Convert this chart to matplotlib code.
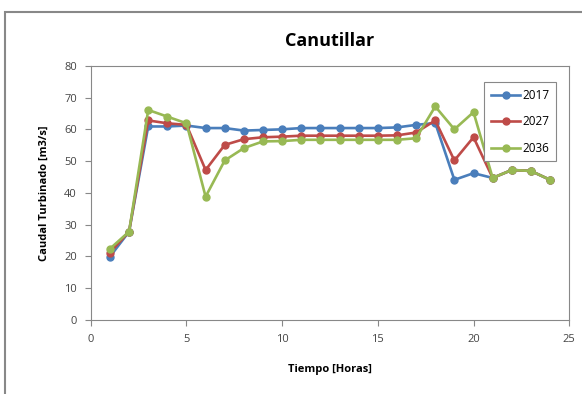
import matplotlib
matplotlib.use("Agg")
import matplotlib.pyplot as plt
from matplotlib.patches import Rectangle

horas = list(range(1, 25))
q2017 = [19.9, 27.8, 60.9, 60.9, 61.2, 60.4, 60.4, 59.6, 59.8, 60.0, 60.4, 60.4,
         60.4, 60.4, 60.4, 60.6, 61.4, 62.0, 44.1, 46.2, 44.7, 47.2, 46.9, 44.1]
q2027 = [21.2, 27.8, 62.8, 61.9, 61.4, 47.2, 55.1, 56.9, 57.5, 57.7, 58.0, 58.0,
         58.0, 58.0, 58.0, 58.1, 59.0, 62.8, 50.2, 57.5, 44.7, 47.2, 46.9, 44.1]
q2036 = [22.4, 27.8, 66.1, 64.0, 61.9, 38.8, 50.2, 54.1, 56.2, 56.3, 56.7, 56.7,
         56.7, 56.7, 56.7, 56.7, 57.2, 67.2, 60.0, 65.4, 44.7, 47.2, 46.9, 44.1]
series = [("2017", q2017, "#4A7EBB"), ("2027", q2027, "#BE4B48"), ("2036", q2036, "#98B954")]

plt.rcParams['font.family'] = ['Open Sans', 'DejaVu Sans']

fig = plt.figure(figsize=(5.82, 3.94), dpi=100)
ax = fig.add_axes([0.156, 0.188, 0.822, 0.645])

for name, vals, col in series:
    ax.plot(horas, vals, color=col, lw=1.9, marker='o', ms=5, label=name)

ax.set_xlim(0, 25)
ax.set_ylim(0, 80)
ax.set_xticks(range(0, 26, 5))
ax.set_yticks(range(0, 81, 10))
ax.tick_params(direction='out', length=4, width=0.8, color='#888888',
               labelsize=8, labelcolor='#444444', pad=6)
for s in ax.spines.values():
    s.set_color('#888888')
    s.set_linewidth(0.8)

ax.set_title('Canutillar', fontsize=13, fontweight='bold', pad=14)
ax.set_xlabel('Tiempo [Horas]', fontsize=8, fontweight='bold', labelpad=14)
ax.set_ylabel('Caudal Turbinado [m3/s]', fontsize=8, fontweight='bold', labelpad=10)

leg = ax.legend(loc='upper right', bbox_to_anchor=(0.973, 0.935), fontsize=8.5,
                fancybox=False, framealpha=1, edgecolor='#888888',
                handlelength=2.5, handletextpad=0.2, labelspacing=1.15,
                borderpad=0.55, borderaxespad=0)
leg.get_frame().set_linewidth(0.8)

fig.patches.append(Rectangle((5 / 582, -0.1), 2, (394 - 12) / 394 + 0.1,
                             transform=fig.transFigure, fill=False,
                             edgecolor='#888888', lw=1.5))

fig.savefig('out.png', dpi=100)
